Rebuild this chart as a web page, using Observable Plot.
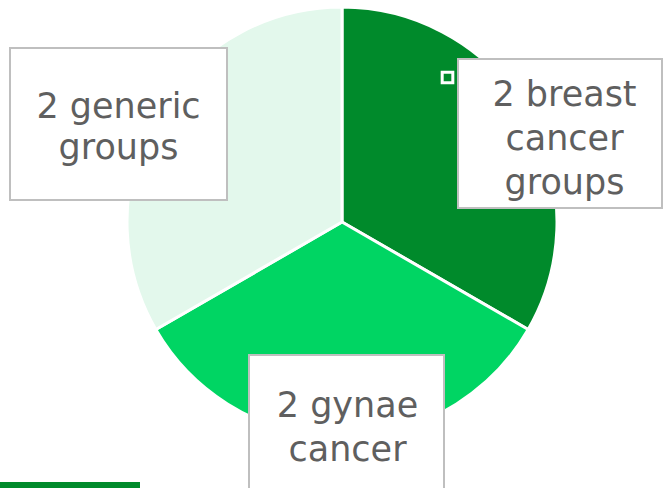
<!DOCTYPE html>
<html>
<head>
<meta charset="utf-8">
<script src="https://cdn.jsdelivr.net/npm/d3@7"></script>
<script src="https://cdn.jsdelivr.net/npm/@observablehq/plot@0.6"></script>
<style>
html, body { margin: 0; padding: 0; background: #ffffff; overflow: hidden; }
</style>
</head>
<body>
<div id="chart"></div>
<script>
// Data
const categories = ["2 breast cancer groups", "2 gynae cancer", "2 generic groups"];
const values = [1, 1, 1];
const labels = ["2 breast\ncancer\ngroups", "2 gynae\ncancer", "2 generic\ngroups"];
const sliceColors = ["#008A2B", "#00D563", "#E3F8EC"];

// Layout
const W = 663, H = 488;
const cx = 342, cy = 222, R = 215;
const FS = 35;
const boxes = [
  {x1: 458, x2: 662, y1: 59, y2: 208, tx: 564, ty: 135, lh: 44 / FS},
  {x1: 249, x2: 444, y1: 355, y2: 500, tx: 347, ty: 424, lh: 44 / FS},
  {x1: 10, x2: 227, y1: 48, y2: 200, tx: 118, ty: 124.5, lh: 41 / FS}
];
const labelTable = categories.map((c, i) => ({category: c, label: labels[i], ...boxes[i]}));

const pieMark = (index, scales, vals, dims, context) => {
  const pie = d3.pie().sort(null).value(d => d)(values);
  const arc = d3.arc().innerRadius(0).outerRadius(R);
  const g = d3.create("svg:g")
    .attr("transform", `translate(${scales.x(cx)},${scales.y(cy)})`);
  g.selectAll("path").data(pie).join("path")
    .attr("d", arc)
    .attr("fill", (d, i) => sliceColors[i])
    .attr("stroke", "#ffffff")
    .attr("stroke-width", 3)
    .attr("stroke-linejoin", "round");
  return g.node();
};

const chart = Plot.plot({
  width: W,
  height: H,
  margin: 0,
  x: {domain: [0, W], range: [0, W], axis: null},
  y: {domain: [0, H], range: [0, H], axis: null},
  style: {background: "#ffffff"},
  marks: [
    pieMark,
    Plot.rect(labelTable, {x1: "x1", x2: "x2", y1: "y1", y2: "y2", fill: "#ffffff", stroke: "#BFBFBF", strokeWidth: 2}),
    ...labelTable.map(d => Plot.text([d], {
      x: "tx", y: "ty", text: "label",
      fontSize: FS, fill: "#5f5f5f", lineHeight: d.lh,
      fontFamily: "'DejaVu Sans', sans-serif", fontWeight: "normal",
      textAnchor: "middle", lineAnchor: "middle"
    })),
    Plot.dot([{x: 447, y: 77}], {x: "x", y: "y", symbol: "square", r: 6, fill: "none", stroke: "#ffffff", strokeWidth: 3}),
    Plot.rect([{x1: 0, x2: 140, y1: 482, y2: 488}], {x1: "x1", x2: "x2", y1: "y1", y2: "y2", fill: "#008A2B"})
  ]
});
document.getElementById("chart").appendChild(chart);
</script>
</body>
</html>
